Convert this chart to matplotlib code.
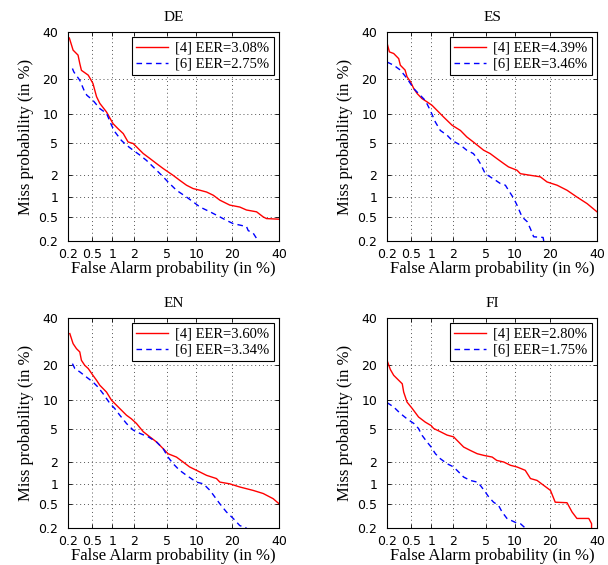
#!/usr/bin/env python3
# -*- coding: utf-8 -*-

import math
import numpy as np
import matplotlib
matplotlib.use("Agg")
import matplotlib.pyplot as plt
from matplotlib.ticker import FixedLocator, FixedFormatter, NullLocator

# -------- data (percent) --------
LANGS = ["DE", "ES", "EN", "FI"]
EER_4 = ["3.08", "4.39", "3.60", "2.80"]
EER_6 = ["2.75", "3.46", "3.34", "1.75"]

de_fa_4 = [0.21, 0.243, 0.294, 0.314, 0.334, 0.43, 0.51, 0.545, 0.58, 0.65, 0.82, 1.02, 1.2, 1.42,
           1.65, 1.93, 2.13, 2.6, 3.14, 3.77, 4.5, 5.1, 5.8, 6.8, 8.0, 9.3, 10.8, 12.4, 14.2, 16.1,
           19.3, 22.9, 25.5, 29.7, 32.6, 34.1, 40.0]
de_miss_4 = [37.1, 31.5, 29.3, 25.8, 23.1, 21.3, 18.4, 16.2, 14.3, 12.5, 10.4, 8.0, 7.1, 6.3,
             5.1, 4.9, 4.5, 3.75, 3.27, 2.83, 2.45, 2.22, 2.0, 1.72, 1.47, 1.32, 1.25, 1.18, 1.06, 0.9,
             0.76, 0.71, 0.64, 0.6, 0.5, 0.47, 0.46]
de_fa_6 = [0.237, 0.25, 0.314, 0.378, 0.41, 0.51, 0.65, 0.82, 0.97, 1.08, 1.34, 1.57, 1.93, 2.35,
           2.85, 3.6, 4.5, 5.1, 6.3, 8.0, 9.3, 10.8, 13.3, 16.1, 18.2, 20.5, 25.5, 26.2, 28.3, 30.4]
de_miss_6 = [23.8, 22.5, 19.5, 15.7, 14.7, 13.3, 11.2, 10.1, 7.7, 6.6, 5.3, 4.7, 4.1, 3.6,
             3.1, 2.45, 1.91, 1.63, 1.25, 1.0, 0.85, 0.71, 0.6, 0.5, 0.44, 0.39, 0.35, 0.30, 0.27, 0.2]

es_fa_4 = [0.2, 0.22, 0.26, 0.315, 0.335, 0.40, 0.43, 0.49, 0.55, 0.62, 0.73, 0.87, 1.03, 1.21,
           1.5, 1.95, 2.5, 3.0, 3.6, 4.75, 5.6, 6.6, 7.8, 8.7, 10.5, 11.3, 13.9, 16.8, 19.0, 22.6,
           26.5, 30.7, 35.3, 40.0]
es_miss_4 = [34.8, 30.7, 30.0, 27.8, 25.1, 23.2, 20.7, 18.9, 16.7, 15.2, 13.8, 12.9, 12.0, 10.8,
             9.3, 7.7, 6.8, 5.8, 5.1, 4.1, 3.75, 3.27, 2.83, 2.57, 2.33, 2.1, 2.0, 1.91, 1.63, 1.47,
             1.25, 1.0, 0.8, 0.6]
es_fa_6 = [0.2, 0.26, 0.335, 0.43, 0.55, 0.69, 0.82, 0.97, 1.15, 1.35, 1.67, 1.95, 2.5, 3.0,
           3.6, 4.0, 4.35, 4.95, 5.6, 6.4, 7.2, 8.1, 8.7, 9.8, 10.5, 11.7, 13.0, 13.9, 14.8, 17.7, 17.9]
es_miss_6 = [26.4, 25.1, 23.2, 20.1, 16.7, 14.7, 13.3, 10.8, 8.3, 6.8, 6.06, 5.3, 4.7, 4.1,
             3.75, 3.27, 2.83, 2.1, 1.91, 1.72, 1.55, 1.47, 1.25, 0.95, 0.76, 0.5, 0.42, 0.32, 0.236, 0.23, 0.2]

en_fa_4 = [0.214, 0.243, 0.277, 0.314, 0.334, 0.378, 0.43, 0.51, 0.58, 0.65, 0.82, 0.97, 1.08, 1.27,
           1.57, 1.83, 2.13, 2.6, 3.14, 3.77, 4.5, 5.1, 6.3, 7.4, 8.6, 10.0, 12.4, 15.1, 16.1, 19.3,
           22.9, 28.3, 32.6, 37.2, 40.0]
en_miss_4 = [32.7, 28.3, 26.2, 24.9, 21.7, 19.9, 18.8, 16.6, 15.1, 13.7, 11.9, 10.0, 9.3, 8.3,
             7.1, 6.5, 5.8, 4.7, 4.1, 3.57, 2.96, 2.56, 2.32, 2.0, 1.72, 1.55, 1.32, 1.19, 1.06, 1.0,
             0.9, 0.8, 0.72, 0.6, 0.5]
en_fa_6 = [0.237, 0.26, 0.314, 0.40, 0.51, 0.61, 0.73, 0.92, 1.08, 1.27, 1.57, 1.93, 2.35, 3.0,
           3.77, 4.5, 5.1, 5.8, 6.8, 8.0, 10.0, 11.6, 13.3, 14.6, 16.1, 18.2, 20.5, 22.9, 25.5]
en_miss_6 = [20.5, 18.8, 17.7, 16.1, 14.6, 13.2, 11.5, 9.3, 8.3, 7.1, 5.8, 4.9, 4.5, 4.1,
             3.57, 2.96, 2.32, 1.9, 1.55, 1.32, 1.06, 1.0, 0.8, 0.64, 0.5, 0.37, 0.29, 0.22, 0.2]

fi_fa_4 = [0.205, 0.228, 0.26, 0.315, 0.36, 0.38, 0.43, 0.52, 0.65, 0.82, 1.0, 1.09, 1.35, 1.67,
           2.04, 2.37, 2.74, 3.3, 4.0, 4.75, 5.9, 6.6, 7.8, 9.1, 10.5, 12.5, 13.9, 15.8, 17.9, 20.2,
           21.9, 26.5, 28.6, 30.7, 36.1, 37.4, 37.4]
fi_miss_4 = [21.1, 18.5, 16.6, 15.1, 14.1, 11.9, 9.6, 8.3, 6.8, 6.0, 5.5, 5.1, 4.7, 4.3,
             4.1, 3.57, 3.1, 2.82, 2.56, 2.44, 2.32, 2.1, 2.0, 1.81, 1.72, 1.55, 1.19, 1.12, 0.95, 0.8,
             0.53, 0.52, 0.37, 0.29, 0.29, 0.237, 0.2]
fi_fa_6 = [0.2, 0.26, 0.335, 0.43, 0.55, 0.65, 0.73, 0.87, 1.0, 1.15, 1.35, 1.67, 2.04, 2.37,
           2.74, 3.3, 4.0, 4.35, 4.95, 5.4, 6.1, 6.9, 7.5, 8.4, 10.1, 11.3, 12.5]
fi_miss_6 = [9.5, 8.6, 7.4, 6.5, 5.8, 5.1, 4.3, 3.57, 3.1, 2.56, 2.21, 1.9, 1.72, 1.47,
             1.25, 1.12, 1.06, 0.95, 0.76, 0.64, 0.53, 0.47, 0.37, 0.29, 0.25, 0.237, 0.2]

CURVES = {
    "DE": (de_fa_4, de_miss_4, de_fa_6, de_miss_6),
    "ES": (es_fa_4, es_miss_4, es_fa_6, es_miss_6),
    "EN": (en_fa_4, en_miss_4, en_fa_6, en_miss_6),
    "FI": (fi_fa_4, fi_miss_4, fi_fa_6, fi_miss_6),
}

TICKS = [0.2, 0.5, 1, 2, 5, 10, 20, 40]
TICK_LABELS = ["0.2", "0.5", "1", "2", "5", "10", "20", "40"]
LIMS = (0.2, 40)


# -------- probit (normal deviate) scale helpers --------
_A = [-3.969683028665376e+01, 2.209460984245205e+02, -2.759285104469687e+02,
      1.383577518672690e+02, -3.066479806614716e+01, 2.506628277459239e+00]
_B = [-5.447609879822406e+01, 1.615858368580409e+02, -1.556989798598866e+02,
      6.680131188771972e+01, -1.328068155288572e+01]
_C = [-7.784894002430293e-03, -3.223964580411365e-01, -2.400758277161838e+00,
      -2.549732539343734e+00, 4.374664141464968e+00, 2.938163982698783e+00]
_D = [7.784695709041462e-03, 3.224671290700398e-01, 2.445134137142996e+00,
      3.754408361212678e+00]


def pct_to_probit(x):
    """Inverse normal CDF of a percentage (Acklam's approximation)."""
    p = np.clip(np.asarray(x, dtype=float) / 100.0, 1e-9, 1 - 1e-9)
    out = np.empty_like(p)
    plow = 0.02425
    lo = p < plow
    hi = p > 1 - plow
    mid = ~(lo | hi)
    q = np.sqrt(-2 * np.log(p[lo]))
    out[lo] = ((((((_C[0]*q+_C[1])*q+_C[2])*q+_C[3])*q+_C[4])*q+_C[5]) /
               ((((_D[0]*q+_D[1])*q+_D[2])*q+_D[3])*q+1))
    q = np.sqrt(-2 * np.log(1 - p[hi]))
    out[hi] = -((((((_C[0]*q+_C[1])*q+_C[2])*q+_C[3])*q+_C[4])*q+_C[5]) /
                ((((_D[0]*q+_D[1])*q+_D[2])*q+_D[3])*q+1))
    q = p[mid] - 0.5
    r = q * q
    out[mid] = ((((((_A[0]*r+_A[1])*r+_A[2])*r+_A[3])*r+_A[4])*r+_A[5])*q /
                (((((_B[0]*r+_B[1])*r+_B[2])*r+_B[3])*r+_B[4])*r+1))
    return out


_erf = np.vectorize(math.erf)


def probit_to_pct(z):
    z = np.asarray(z, dtype=float)
    return 50.0 * (1.0 + _erf(z / math.sqrt(2.0)))


def main():
    SERIF = ["Liberation Serif", "DejaVu Serif"]
    SANS = ["DejaVu Sans"]

    fig = plt.figure(figsize=(6.08, 5.65), dpi=100)

    # axes rectangles (left, bottom, width, height)
    RECTS = {
        "DE": [0.112, 0.5735, 0.347, 0.370],
        "ES": [0.6365, 0.5735, 0.3454, 0.370],
        "EN": [0.112, 0.0655, 0.347, 0.3717],
        "FI": [0.6365, 0.0655, 0.3454, 0.3717],
    }

    for lang, e4, e6 in zip(LANGS, EER_4, EER_6):
        ax = fig.add_axes(RECTS[lang])
        for setter in (ax.set_xscale, ax.set_yscale):
            setter("function", functions=(pct_to_probit, probit_to_pct))

        fa4, miss4, fa6, miss6 = CURVES[lang]
        ax.plot(fa4, miss4, color="red", lw=1.0, label=f"[4] EER={e4}%")
        ax.plot(fa6, miss6, color="blue", lw=1.0, ls=(0, (4, 3)), label=f"[6] EER={e6}%")

        ax.set_xlim(*LIMS)
        ax.set_ylim(*LIMS)
        for axis in (ax.xaxis, ax.yaxis):
            axis.set_major_locator(FixedLocator(TICKS))
            axis.set_major_formatter(FixedFormatter(TICK_LABELS))
            axis.set_minor_locator(NullLocator())

        ax.grid(True, color="#555555", ls=(0, (1, 3)), lw=0.7)
        ax.tick_params(direction="in", length=3, width=0.6, top=True, right=True,
                       labelsize=9)
        ax.tick_params(axis="x", pad=5)
        ax.tick_params(axis="y", pad=7)
        for lab in ax.get_xticklabels() + ax.get_yticklabels():
            lab.set_family(SANS)
        for sp in ax.spines.values():
            sp.set_linewidth(0.8)

        ax.set_title(lang, family=SERIF, fontsize=11, pad=8)
        ax.set_xlabel("False Alarm probability (in %)", family=SERIF, fontsize=12, labelpad=0)
        ax.set_ylabel("Miss probability (in %)", family=SERIF, fontsize=12, labelpad=3)

        leg = ax.legend(loc="upper right", prop={"family": SERIF, "size": 10.5},
                        fancybox=False, framealpha=1, edgecolor="black",
                        borderaxespad=0.35, handlelength=2.2, borderpad=0.3,
                        labelspacing=0.2, handletextpad=0.5)
        leg.get_frame().set_linewidth(0.8)

    fig.savefig("out.png", dpi=100)
    plt.close(fig)


if __name__ == "__main__":
    main()
